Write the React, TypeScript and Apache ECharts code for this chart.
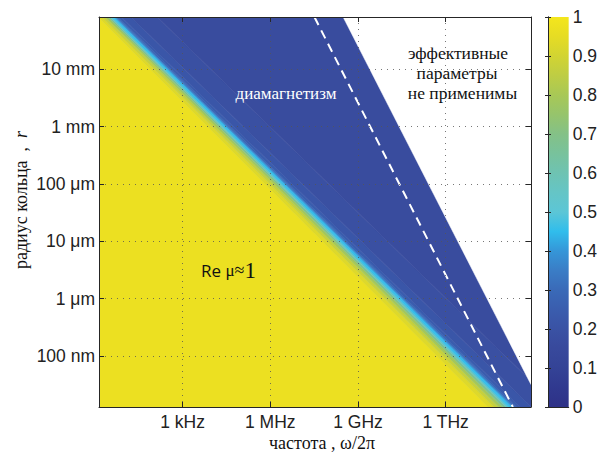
import React, { useEffect, useRef } from "react";
import * as echarts from "echarts";

// ---- axes: log10(frequency / Hz) and log10(radius / m) ----
const freqRange = [0.14, 14.92];
const radiusRange = [-7.89, -1.09];
const freqTickValues = [3, 6, 9, 12];
const freqTickLabels = ["1 kHz", "1 MHz", "1 GHz", "1 THz"];
const radiusTickValues = [-7, -6, -5, -4, -3, -2];
const radiusTickLabels = ["100 nm", "1 μm", "10 μm", "100 μm", "1 mm", "10 mm"];

// ---- resonance ridge (centre of the cyan line), [log f, log r] at top and bottom of the plot ----
const resonanceTop = [0.63, -1.09];
const resonanceBottom = [14.23, -7.89];

// ---- limit of the effective-medium description (edge of the white region) ----
const validityLine = [
  [8.49, -1.09],
  [14.92, -7.5],
];

// ---- dashed line ----
const dashedLine = [
  [7.51, -1.09],
  [14.3, -7.89],
];

// ---- profile of Re μ across the ridge: band edges in decades of frequency from the ridge ----
const bandEdgesTop = [-30, -0.52, -0.39, -0.28, -0.19, -0.12, -0.06, 0.0, 0.05, 0.1, 0.16, 0.27, 0.6, 1.5, 30];
const bandEdgesBottom = [-30, -0.78, -0.58, -0.42, -0.28, -0.17, -0.08, 0.0, 0.06, 0.12, 0.19, 0.32, 0.7, 1.6, 30];
const bandValues = [0.97, 0.93, 0.87, 0.79, 0.68, 0.56, 0.46, 0.44, 0.37, 0.3, 0.25, 0.22, 0.19, 0.165];

// ---- colour bar ----
const colorbarRange = [0, 1];
const colorbarStep = 0.1;
const colormap = [
  "#2E3187", "#30398F", "#344396", "#38499C", "#3A52A4", "#3A5DAE", "#3A6AB8",
  "#3A7DC6", "#3596D8", "#30BDEC", "#5CC6D6", "#65C5C6", "#6EC3B2", "#78C29C",
  "#84C187", "#96C46C", "#A8C856", "#BECD44", "#D2D432", "#E6DC24", "#F4E61C",
];

const AXIS_COLOR = "#262626";
const LABEL_COLOR = "#222";
const SANS = "'Liberation Sans', Arial, sans-serif";
const SERIF = "'Liberation Serif', 'Times New Roman', serif";
const LABEL_SIZE = 17.5;

function buildOption() {
  const bandData = bandValues.map((v, i) => [
    bandEdgesTop[i],
    bandEdgesTop[i + 1],
    bandEdgesBottom[i],
    bandEdgesBottom[i + 1],
    v,
  ]);

  const tickFmt = (values: number[], labels: string[]) => (v: number) => {
    const i = values.findIndex((t) => Math.abs(t - v) < 1e-6);
    return i >= 0 ? labels[i] : "";
  };

  const axisLine = { show: true, lineStyle: { color: AXIS_COLOR, width: 1 } };
  const gridLine = { show: true, lineStyle: { color: "#555", width: 1, type: [1, 5], opacity: 0.8 } };

  return {
    animation: false,
    backgroundColor: "#ffffff",
    grid: [
      { left: 99, top: 17, width: 432, height: 390, containLabel: false },
      { left: 548, top: 17, width: 23, height: 390, containLabel: false },
    ],
    visualMap: {
      show: false,
      type: "continuous",
      min: colorbarRange[0],
      max: colorbarRange[1],
      dimension: 4,
      seriesIndex: 0,
      inRange: { color: colormap },
    },
    xAxis: [
      {
        gridIndex: 0,
        type: "value",
        min: freqRange[0],
        max: freqRange[1],
        position: "bottom",
        z: 10,
        axisLine,
        axisTick: { show: true, inside: true, length: 5, customValues: freqTickValues, lineStyle: { color: AXIS_COLOR } },
        axisLabel: {
          show: true,
          customValues: freqTickValues,
          formatter: tickFmt(freqTickValues, freqTickLabels),
          color: LABEL_COLOR,
          fontFamily: SANS,
          fontSize: LABEL_SIZE,
          margin: 6,
        },
        splitLine: gridLine,
      },
      {
        gridIndex: 0,
        type: "value",
        min: freqRange[0],
        max: freqRange[1],
        position: "top",
        z: 10,
        axisLine,
        axisTick: { show: true, inside: true, length: 5, customValues: freqTickValues, lineStyle: { color: AXIS_COLOR } },
        axisLabel: { show: false },
        splitLine: { show: false },
      },
      {
        gridIndex: 1,
        type: "value",
        min: 0,
        max: 1,
        position: "bottom",
        z: 10,
        axisLine,
        axisTick: { show: false },
        axisLabel: { show: false },
        splitLine: { show: false },
      },
      {
        gridIndex: 1,
        type: "value",
        min: 0,
        max: 1,
        position: "top",
        z: 10,
        axisLine,
        axisTick: { show: false },
        axisLabel: { show: false },
        splitLine: { show: false },
      },
    ],
    yAxis: [
      {
        gridIndex: 0,
        type: "value",
        min: radiusRange[0],
        max: radiusRange[1],
        position: "left",
        z: 10,
        axisLine,
        axisTick: { show: true, inside: true, length: 5, customValues: radiusTickValues, lineStyle: { color: AXIS_COLOR } },
        axisLabel: {
          show: true,
          customValues: radiusTickValues,
          formatter: tickFmt(radiusTickValues, radiusTickLabels),
          color: LABEL_COLOR,
          fontFamily: SANS,
          fontSize: LABEL_SIZE,
          margin: 4,
        },
        splitLine: gridLine,
      },
      {
        gridIndex: 0,
        type: "value",
        min: radiusRange[0],
        max: radiusRange[1],
        position: "right",
        z: 10,
        axisLine,
        axisTick: { show: true, inside: true, length: 5, customValues: radiusTickValues, lineStyle: { color: AXIS_COLOR } },
        axisLabel: { show: false },
        splitLine: { show: false },
      },
      {
        gridIndex: 1,
        type: "value",
        min: colorbarRange[0],
        max: colorbarRange[1],
        interval: colorbarStep,
        position: "right",
        z: 10,
        axisLine,
        axisTick: { show: true, inside: true, length: 3, lineStyle: { color: AXIS_COLOR } },
        axisLabel: {
          show: true,
          color: LABEL_COLOR,
          fontFamily: SANS,
          fontSize: LABEL_SIZE,
          margin: 4,
          formatter: (v: number) => (v === 0 || v === 1 ? String(v) : v.toFixed(1)),
        },
        splitLine: { show: false },
      },
      {
        gridIndex: 1,
        type: "value",
        min: colorbarRange[0],
        max: colorbarRange[1],
        interval: colorbarStep,
        position: "left",
        z: 10,
        axisLine,
        axisTick: { show: true, inside: true, length: 3, lineStyle: { color: AXIS_COLOR } },
        axisLabel: { show: false },
        splitLine: { show: false },
      },
    ],
    series: [
      {
        type: "custom",
        name: "Re mu",
        xAxisIndex: 0,
        yAxisIndex: 0,
        clip: true,
        z: 1,
        data: bandData,
        renderItem: (params: any, api: any) => {
          const lt = api.value(0);
          const rt = api.value(1);
          const lb = api.value(2);
          const rb = api.value(3);
          const pts = [
            api.coord([resonanceTop[0] + lt, resonanceTop[1]]),
            api.coord([resonanceTop[0] + rt, resonanceTop[1]]),
            api.coord([resonanceBottom[0] + rb, resonanceBottom[1]]),
            api.coord([resonanceBottom[0] + lb, resonanceBottom[1]]),
          ];
          const color = api.visual("color");
          return {
            type: "polygon",
            shape: { points: pts },
            style: { fill: color, stroke: color, lineWidth: 0.6 },
          };
        },
      },
      {
        type: "custom",
        name: "not applicable",
        xAxisIndex: 0,
        yAxisIndex: 0,
        clip: true,
        z: 2,
        data: [[validityLine[0][0], validityLine[0][1]]],
        renderItem: (params: any, api: any) => {
          const a = api.coord(validityLine[0]);
          const b = api.coord(validityLine[1]);
          const corner = api.coord([freqRange[1], radiusRange[1]]);
          const pts = [
            [a[0], a[1] - 2],
            [corner[0] + 2, corner[1] - 2],
            [corner[0] + 2, b[1]],
            b,
            a,
          ];
          return {
            type: "polygon",
            shape: { points: pts },
            style: { fill: "#ffffff", stroke: "#ffffff", lineWidth: 0.5 },
          };
        },
      },
      {
        type: "line",
        name: "dashed",
        xAxisIndex: 0,
        yAxisIndex: 0,
        z: 3,
        symbol: "none",
        silent: true,
        data: dashedLine,
        lineStyle: { color: "#ffffff", width: 2, type: [9, 6] },
      },
      {
        type: "custom",
        name: "colorbar",
        xAxisIndex: 2,
        yAxisIndex: 2,
        z: 1,
        data: [[0, 0]],
        renderItem: (params: any, api: any) => {
          const a = api.coord([0, colorbarRange[1]]);
          const b = api.coord([1, colorbarRange[0]]);
          return {
            type: "rect",
            shape: { x: a[0], y: a[1], width: b[0] - a[0], height: b[1] - a[1] },
            style: {
              fill: new echarts.graphic.LinearGradient(
                0,
                1,
                0,
                0,
                colormap.map((c, i) => ({ offset: i / (colormap.length - 1), color: c }))
              ),
            },
          };
        },
      },
    ],
    graphic: [
      {
        type: "text",
        x: 286,
        y: 93,
        z: 20,
        style: {
          text: "диамагнетизм",
          fill: "#ffffff",
          font: `17px ${SERIF}`,
          align: "center",
          verticalAlign: "middle",
          textAlign: "center",
          textVerticalAlign: "middle",
        },
      },
      {
        type: "text",
        x: 458,
        y: 53,
        z: 20,
        style: {
          text: "эффективные",
          fill: "#111",
          font: `17.5px ${SERIF}`,
          align: "center",
          verticalAlign: "middle",
          textAlign: "center",
          textVerticalAlign: "middle",
        },
      },
      {
        type: "text",
        x: 457,
        y: 73,
        z: 20,
        style: {
          text: "параметры",
          fill: "#111",
          font: `17.5px ${SERIF}`,
          align: "center",
          verticalAlign: "middle",
          textAlign: "center",
          textVerticalAlign: "middle",
        },
      },
      {
        type: "text",
        x: 462.5,
        y: 93,
        z: 20,
        style: {
          text: "не применимы",
          fill: "#111",
          font: `17.5px ${SERIF}`,
          align: "center",
          verticalAlign: "middle",
          textAlign: "center",
          textVerticalAlign: "middle",
        },
      },
      {
        type: "text",
        x: 201,
        y: 270,
        z: 20,
        style: {
          text: "{a|Re }{b|μ}{c|≈}{d|1}",
          align: "left",
          verticalAlign: "middle",
          textAlign: "left",
          textVerticalAlign: "middle",
          rich: {
            a: { fontFamily: "'Open Sans', sans-serif", fontSize: 17, fill: "#111", color: "#111" },
            b: { fontFamily: SERIF, fontSize: 17, fill: "#111", color: "#111" },
            c: { fontFamily: SERIF, fontSize: 18, fill: "#111", color: "#111" },
            d: { fontFamily: SERIF, fontSize: 23, fill: "#111", color: "#111" },
          },
        },
      },
      {
        type: "text",
        x: 322,
        y: 443,
        z: 20,
        style: {
          text: "частота , ω/2π",
          fill: "#111",
          font: `18px ${SERIF}`,
          align: "center",
          verticalAlign: "middle",
          textAlign: "center",
          textVerticalAlign: "middle",
        },
      },
      {
        type: "text",
        x: 21,
        y: 200,
        z: 20,
        rotation: Math.PI / 2,
        style: {
          text: "{a|радиус кольца  ,  }{b|r}",
          align: "center",
          verticalAlign: "middle",
          textAlign: "center",
          textVerticalAlign: "middle",
          rich: {
            a: { fontFamily: SERIF, fontSize: 18, fill: "#111", color: "#111" },
            b: { fontFamily: SERIF, fontStyle: "italic", fontSize: 18, fill: "#111", color: "#111" },
          },
        },
      },
    ],
  };
}

export default function App() {
  const ref = useRef<HTMLDivElement>(null);
  useEffect(() => {
    if (!ref.current) return;
    const chart = echarts.init(ref.current, null, { renderer: "svg" });
    chart.setOption(buildOption() as any);
    return () => chart.dispose();
  }, []);
  return (
    <div
      ref={ref}
      style={{ position: "fixed", left: 0, top: 0, width: 600, height: 457, background: "#fff" }}
    />
  );
}
